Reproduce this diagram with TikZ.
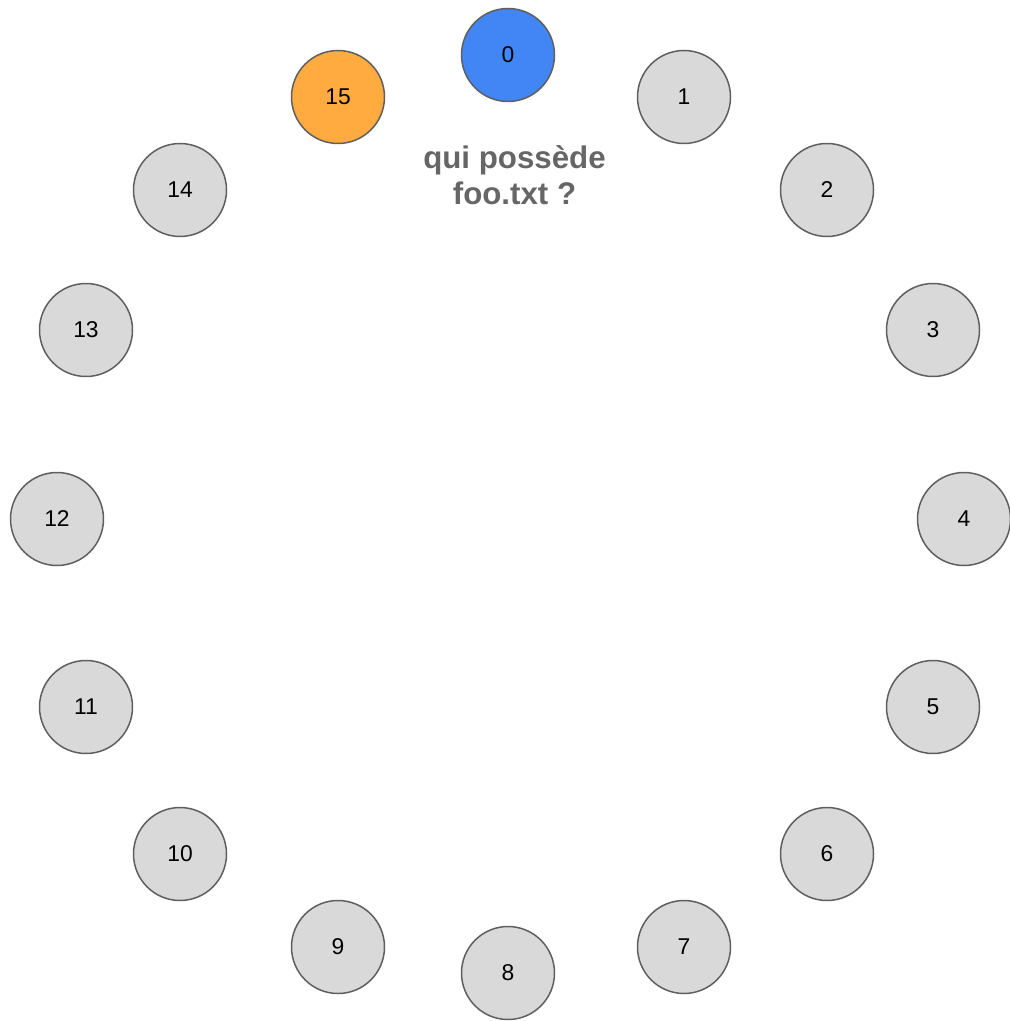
\documentclass[tikz,border=0pt]{standalone}
\usepackage{fontspec}
\setmainfont{Liberation Sans}
\usepackage{tikz}
\usetikzlibrary{positioning}

\definecolor{peergray}{HTML}{D9D9D9}
\definecolor{rimgray}{HTML}{5F5F5F}
\definecolor{askblue}{HTML}{4285F4}
\definecolor{ownorange}{HTML}{FFAB40}
\definecolor{textgray}{HTML}{666666}

\begin{document}
\begin{tikzpicture}[
    peer/.style={circle,draw=rimgray,line width=0.85pt,fill=peergray,
      minimum size=1.86cm,inner sep=0pt,font=\fontsize{13}{15}\selectfont},
    asker/.style={peer,fill=askblue},
    owner/.style={peer,fill=ownorange}]
    \useasboundingbox (0,0) rectangle (20.18,-20.42);

    \node[asker] (n0) at (10.16,-1.10) {0};
    \node[peer] (n1) at (13.68,-1.94) {1};
    \node[peer] (n2) at (16.54,-3.80) {2};
    \node[peer] (n3) at (18.66,-6.60) {3};
    \node[peer] (n4) at (19.28,-10.38) {4};
    \node[peer] (n5) at (18.66,-14.14) {5};
    \node[peer] (n6) at (16.54,-17.08) {6};
    \node[peer] (n7) at (13.68,-18.94) {7};

    \node[peer] (n8) at (10.16,-19.46) {8};
    \node[peer] (n9) at (6.76,-18.94) {9};
    \node[peer] (n10) at (3.60,-17.08) {10};
    \node[peer] (n11) at (1.72,-14.14) {11};
    \node[peer] (n12) at (1.14,-10.38) {12};
    \node[peer] (n13) at (1.72,-6.60) {13};
    \node[peer] (n14) at (3.60,-3.80) {14};
    \node[owner] (n15) at (6.76,-1.94) {15};

    \node[align=center,text=textgray,font=\fontsize{17.8}{20.4}\selectfont\bfseries]
      (query) at (10.29,-3.50) {qui possède\\foo.txt ?};
  \end{tikzpicture}
\end{document}
